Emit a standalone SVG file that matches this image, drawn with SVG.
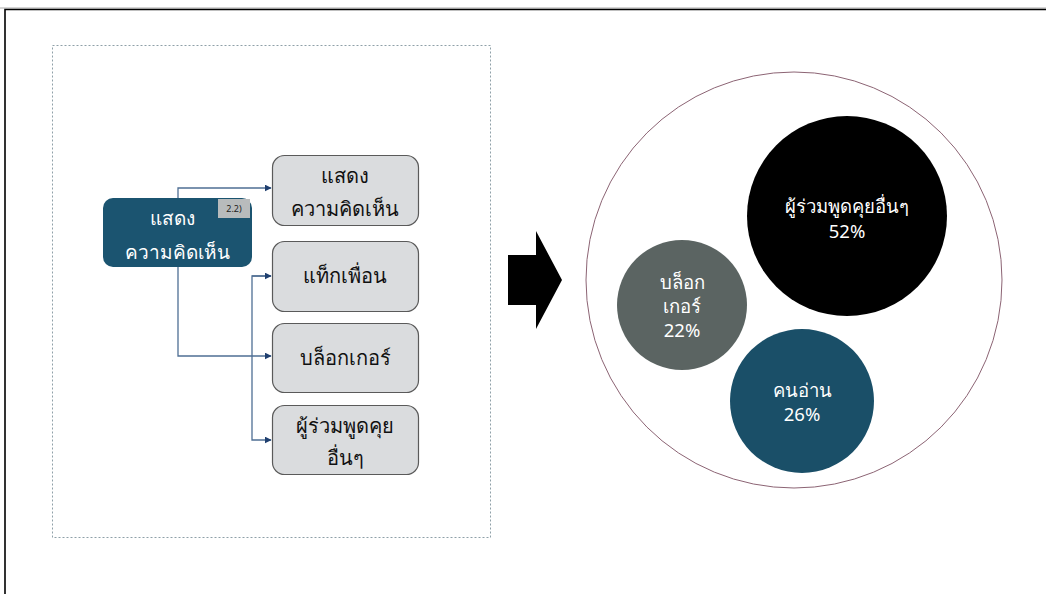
<svg xmlns="http://www.w3.org/2000/svg" width="1046" height="594" viewBox="0 0 1046 594">
<defs>
<style>
text{font-family:"Noto Sans","DejaVu Sans",sans-serif;text-anchor:middle}
.box{fill:#dadcde;stroke:#5a5a5a;stroke-width:1.2}
.bt{font-size:20px;fill:#111}
.wt{font-size:19px;fill:#fff}
.bb{font-size:18.5px;fill:#fff}
.con{fill:none;stroke:#4f6f94;stroke-width:1.3}
</style>
<marker id="ah" viewBox="0 0 10 10" refX="9" refY="5" markerWidth="7" markerHeight="7" orient="auto" markerUnits="userSpaceOnUse">
<path d="M0,0 L10,5 L0,10 z" fill="#1f3f6f"/>
</marker>
</defs>
<rect width="1046" height="594" fill="#fff"/>
<line x1="0" y1="8" x2="1046" y2="8" stroke="#aaa" stroke-width="1"/>
<path d="M5,600 V9.5 H1046" fill="none" stroke="#000" stroke-width="1.6"/>
<rect x="52.5" y="45.5" width="438" height="492" fill="none" stroke="#8fa0a8" stroke-width="1" stroke-dasharray="2,2"/>

<g id="connectors">
<path class="con" d="M178,198 V188 H271" marker-end="url(#ah)"/>
<path class="con" d="M178,267 V356 H271" marker-end="url(#ah)"/>
<path class="con" d="M271,276 H252 V440 H271" marker-end="url(#ah)"/>
<path class="con" d="M252,276 H271" marker-end="url(#ah)"/>
</g>

<g id="node-main">
<rect x="103" y="198" width="149" height="69" rx="10" fill="#1b5470"/>
<rect x="218" y="199" width="32" height="19" fill="#b8bbbc"/>
<text x="234" y="212" style="font-size:9px;fill:#222">2.2)</text>
<text class="wt" x="172" y="225">แสดง</text>
<text class="wt" x="177" y="259">ความคิดเห็น</text>
</g>

<g id="node-1">
<rect class="box" x="272.5" y="155.5" width="146" height="70" rx="12"/>
<text class="bt" x="345" y="183">แสดง</text>
<text class="bt" x="345" y="216">ความคิดเห็น</text>
</g>
<g id="node-2">
<rect class="box" x="272.5" y="241.5" width="146" height="70" rx="12"/>
<text class="bt" x="345" y="283">แท็กเพื่อน</text>
</g>
<g id="node-3">
<rect class="box" x="272.5" y="323.5" width="146" height="69" rx="12"/>
<text class="bt" x="345" y="365">บล็อกเกอร์</text>
</g>
<g id="node-4">
<rect class="box" x="272.5" y="405.5" width="146" height="69" rx="12"/>
<text class="bt" x="345" y="433">ผู้ร่วมพูดคุย</text>
<text class="bt" x="345" y="465">อื่นๆ</text>
</g>

<polygon id="arrow" points="508,255 536,255 536,231 562,280 536,329 536,305 508,305" fill="#000"/>

<g id="bubbles">
<circle cx="794" cy="280" r="208" fill="#fff" stroke="#8c6474" stroke-width="1"/>
<g id="bubble-others">
<circle cx="847" cy="216" r="100" fill="#000"/>
<text class="bb" x="847" y="213">ผู้ร่วมพูดคุยอื่นๆ</text>
<text class="bb" x="847" y="238">52%</text>
</g>
<g id="bubble-blogger">
<circle cx="682" cy="305" r="65" fill="#5b6462"/>
<text class="bb" x="682" y="289">บล็อก</text>
<text class="bb" x="682" y="313">เกอร์</text>
<text class="bb" x="682" y="337">22%</text>
</g>
<g id="bubble-reader">
<circle cx="802" cy="401" r="72" fill="#1a4f68"/>
<text class="bb" x="802" y="397">คนอ่าน</text>
<text class="bb" x="802" y="421">26%</text>
</g>
</g>
</svg>
